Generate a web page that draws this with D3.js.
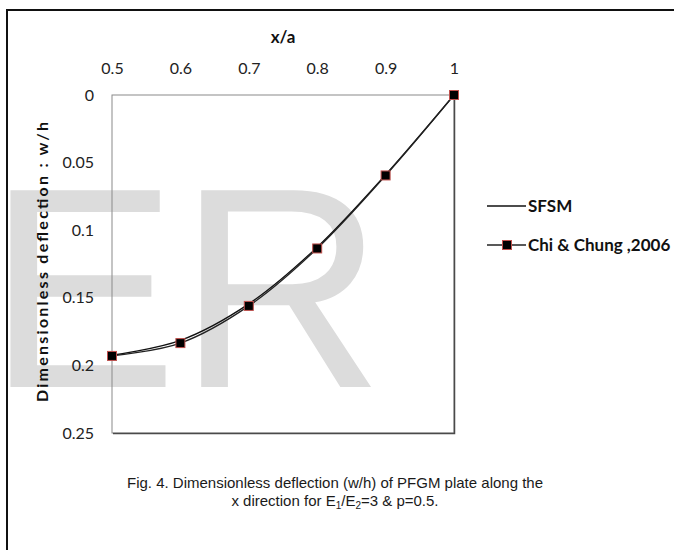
<!DOCTYPE html>
<html>
<head>
<meta charset="utf-8">
<script src="https://cdn.jsdelivr.net/npm/d3@7"></script>
<style>
  html, body { margin: 0; padding: 0; background: #fff; }
  svg { display: block; }
</style>
</head>
<body>
<div class="graph"></div>
<script>
// data
var xValues = [0.5, 0.6, 0.7, 0.8, 0.9, 1];
var sfsm = [0.1925, 0.1815, 0.1545, 0.1125, 0.0590, 0];
var chiChung = [0.1930, 0.1835, 0.1560, 0.1135, 0.0595, 0];
var xTicks = [0.5, 0.6, 0.7, 0.8, 0.9, 1];
var yTicks = [0, 0.05, 0.1, 0.15, 0.2, 0.25];
var seriesNames = ['SFSM', 'Chi & Chung ,2006'];

var width = 674,
  height = 550;

var plot = { left: 112, right: 454, top: 95, bottom: 433 };

var svg = d3.select('.graph')
  .append('svg')
  .attr('width', width)
  .attr('height', height);

// watermark
svg.append('text')
  .attr('x', -13)
  .attr('y', 387)
  .style('font-family', "'Liberation Sans', Arial, sans-serif")
  .style('font-size', '286px')
  .style('fill', '#dcdcdc')
  .text('ER');

// outer frame (only top + left visible)
svg.append('path')
  .attr('d', 'M7,560 L7,10 L680,10')
  .style('fill', 'none')
  .style('stroke', '#111')
  .style('stroke-width', 2);

var x = d3.scaleLinear()
  .domain([0.5, 1])
  .range([plot.left, plot.right]);

var y = d3.scaleLinear()
  .domain([0, 0.25])
  .range([plot.top, plot.bottom]);

// plot area border
svg.append('rect')
  .attr('x', plot.left)
  .attr('y', plot.top)
  .attr('width', plot.right - plot.left)
  .attr('height', plot.bottom - plot.top)
  .style('fill', 'none')
  .style('stroke', '#8a8a8a')
  .style('stroke-width', 1);

svg.append('path')
  .attr('d', 'M' + (plot.right + 0.5) + ',' + (plot.top + 1) + ' L' + (plot.right + 0.5) + ',' + (plot.bottom + 0.5) + ' L' + (plot.left + 1) + ',' + (plot.bottom + 0.5))
  .style('fill', 'none')
  .style('stroke', '#4a4a4a')
  .style('stroke-width', 1.5);

var tickFont = "Lato, 'Open Sans', sans-serif";

// x axis on top
x.axis = d3.axisTop(x)
  .tickValues(xTicks)
  .tickSize(0)
  .tickPadding(0)
  .tickFormat(function (d) { return String(d); });

var xaxis = svg.append('g')
  .attr('transform', 'translate(0,74)')
  .call(x.axis);
xaxis.select('.domain').remove();
xaxis.selectAll('text')
  .style('font-family', tickFont)
  .style('font-size', '16px')
  .style('fill', '#222');

// y axis
y.axis = d3.axisLeft(y)
  .tickValues(yTicks)
  .tickSize(0)
  .tickPadding(0)
  .tickFormat(function (d) { return String(d); });

var yaxis = svg.append('g')
  .attr('transform', 'translate(94,0)')
  .call(y.axis);
yaxis.select('.domain').remove();
yaxis.selectAll('text')
  .style('font-family', tickFont)
  .style('font-size', '16px')
  .style('fill', '#222');

// axis titles
svg.append('text')
  .attr('x', (plot.left + plot.right) / 2)
  .attr('y', 43)
  .attr('text-anchor', 'middle')
  .style('font-family', tickFont)
  .style('font-weight', 'bold')
  .style('font-size', '17px')
  .style('fill', '#111')
  .text('x/a');

svg.append('text')
  .attr('text-anchor', 'middle')
  .attr('transform', 'translate(48,262)rotate(-90)')
  .attr('textLength', 280)
  .attr('lengthAdjust', 'spacing')
  .style('font-family', tickFont)
  .style('font-weight', 'bold')
  .style('font-size', '16px')
  .style('fill', '#111')
  .text('Dimensionless  deflection : w/h');

// lines
var line = d3.line()
  .curve(d3.curveCatmullRom.alpha(0.5))
  .x(function (d) { return x(d[0]); })
  .y(function (d) { return y(d[1]); });

var sfsmData = xValues.map(function (v, i) { return [v, sfsm[i]]; });
var chiData = xValues.map(function (v, i) { return [v, chiChung[i]]; });

svg.append('path')
  .datum(sfsmData)
  .attr('d', line)
  .style('fill', 'none')
  .style('stroke', '#111')
  .style('stroke-width', 1.3);

svg.append('path')
  .datum(chiData)
  .attr('d', line)
  .style('fill', 'none')
  .style('stroke', '#222')
  .style('stroke-width', 1.3);

var ms = 9;
svg.append('g')
  .selectAll('rect')
  .data(chiData)
  .enter()
  .append('rect')
  .attr('x', function (d) { return x(d[0]) - ms / 2; })
  .attr('y', function (d) { return y(d[1]) - ms / 2; })
  .attr('width', ms)
  .attr('height', ms)
  .style('fill', '#000')
  .style('stroke', '#c0504d')
  .style('stroke-width', 1);

// legend
var legend = svg.append('g');
var legendY = [206, 245];

legend.append('line')
  .attr('x1', 487).attr('x2', 526)
  .attr('y1', legendY[0]).attr('y2', legendY[0])
  .style('stroke', '#111')
  .style('stroke-width', 1.3);

legend.append('line')
  .attr('x1', 487).attr('x2', 526)
  .attr('y1', legendY[1]).attr('y2', legendY[1])
  .style('stroke', '#222')
  .style('stroke-width', 1.3);

legend.append('rect')
  .attr('x', 507 - ms / 2)
  .attr('y', legendY[1] - ms / 2)
  .attr('width', ms)
  .attr('height', ms)
  .style('fill', '#000')
  .style('stroke', '#c0504d')
  .style('stroke-width', 1);

legend.selectAll('text.lbl')
  .data(seriesNames)
  .enter()
  .append('text')
  .attr('class', 'lbl')
  .attr('x', 528)
  .attr('y', function (d, i) { return legendY[i] + 6; })
  .style('font-family', tickFont)
  .style('font-weight', 'bold')
  .style('font-size', '17px')
  .style('fill', '#111')
  .text(function (d) { return d; });

// caption
var capFont = "'Liberation Sans', Arial, sans-serif";
svg.append('text')
  .attr('x', 335)
  .attr('y', 488)
  .attr('text-anchor', 'middle')
  .style('font-family', capFont)
  .style('font-size', '15px')
  .style('fill', '#1a1a1a')
  .text('Fig. 4. Dimensionless deflection (w/h) of PFGM plate along the');

var cap2 = svg.append('text')
  .attr('x', 335)
  .attr('y', 506)
  .attr('text-anchor', 'middle')
  .style('font-family', capFont)
  .style('font-size', '15px')
  .style('fill', '#1a1a1a');
cap2.append('tspan').text('x direction for E');
cap2.append('tspan').attr('dy', 3).style('font-size', '10px').text('1');
cap2.append('tspan').attr('dy', -3).text('/E');
cap2.append('tspan').attr('dy', 3).style('font-size', '10px').text('2');
cap2.append('tspan').attr('dy', -3).text('=3 & p=0.5.');
</script>
</body>
</html>
